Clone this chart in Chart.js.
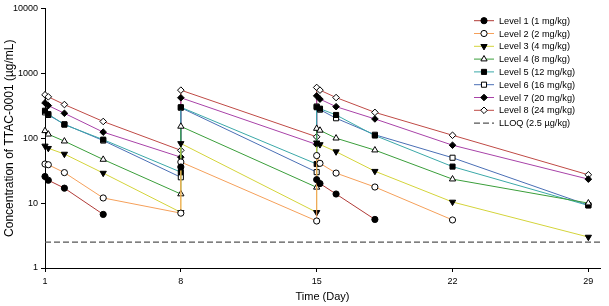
<!DOCTYPE html>
<html>
<head>
<meta charset="utf-8">
<script src="https://cdn.jsdelivr.net/npm/chart.js@4"></script>
<style>
  html, body { margin: 0; padding: 0; background: #fff; }
</style>
</head>
<body>
<canvas id="myChart" width="609" height="306"></canvas>
<script>
// sampling days - trough and peak on day 8 / 15 share the same x
const days = [1, 1.17, 2, 4, 8, 8, 15, 15, 15.17, 16, 18, 22, 29];

const level1 = [25.7, 22.5, 17, 6.7, null, 36, null, 23, 20, 13.8, 5.6, null, null];
const level2 = [40, 39, 29.5, 12, 7.0, 43, 5.3, 54, 41, 29, 17.7, 5.5, null];
const level3 = [76, 70, 57, 29, 7.2, 83, 7.2, 85, 80, 62, 31, 10.4, 3.0];
const level4 = [130, 115, 90, 47, 13.8, 152, 17.5, 141, 132, 100, 65.5, 23.4, 10];
const level5 = [265, 235, 162, 95, 30, 300, 40, 300, 285, 228, 110, 36.5, 9.2];
const level6 = [250, 228, 164, 92, 25, 295, 30, 308, 275, 203, 113, 50, 9.3];
const level7 = [350, 318, 242, 124, 51, 420, 80, 449, 400, 306, 198, 78, 23.4];
const level8 = [466, 434, 330, 181, 65, 550, 105, 605, 550, 423, 250, 111, 27.3];

const seriesNames = ["Level 1 (1 mg/kg)", "Level 2 (2 mg/kg)", "Level 3 (4 mg/kg)", "Level 4 (8 mg/kg)",
  "Level 5 (12 mg/kg)", "Level 6 (16 mg/kg)", "Level 7 (20 mg/kg)", "Level 8 (24 mg/kg)"];
const xTicks = [1, 8, 15, 22, 29];
const yTicks = [1, 10, 100, 1000, 10000];
const lloq = 2.5;
const xMin = 1, xMax = 29.6;

const FONT = "'Liberation Sans', Arial, sans-serif";

const styles = [
  { color: '#b03a36', shape: 'circle', fill: '#000', r: 3.1 },
  { color: '#f5a05a', shape: 'circle', fill: '#fff', r: 3.1 },
  { color: '#d4d43a', shape: 'triangle', fill: '#000', r: 3.6, rot: 180 },
  { color: '#3a9e3a', shape: 'triangle', fill: '#fff', r: 3.6 },
  { color: '#3aa8a8', shape: 'rect', fill: '#000', r: 3.6 },
  { color: '#4a6fb5', shape: 'rect', fill: '#fff', r: 3.6 },
  { color: '#a842a8', shape: 'rectRot', fill: '#000', r: 3.3 },
  { color: '#bf4a45', shape: 'rectRot', fill: '#fff', r: 3.3 }
];

const allLevels = [level1, level2, level3, level4, level5, level6, level7, level8];

const datasets = allLevels.map((vals, i) => ({
  label: seriesNames[i],
  data: vals.map((v, k) => ({ x: days[k], y: v })),
  borderColor: styles[i].color,
  borderWidth: 1,
  pointStyle: styles[i].shape,
  rotation: styles[i].rot || 0,
  pointRadius: styles[i].r,
  pointBackgroundColor: styles[i].fill,
  pointBorderColor: '#000',
  pointBorderWidth: 1,
  tension: 0,
  clip: false
}));

datasets.push({
  label: 'LLOQ (2.5 µg/kg)',
  data: [{ x: xMin, y: lloq }, { x: xMax, y: lloq }],
  borderColor: '#555',
  borderWidth: 1.2,
  borderDash: [6, 3],
  pointRadius: 0,
  clip: false
});

// legend with line + marker, drawn on the canvas
const legendPos = { x: 474, y: 20.7, len: 20, step: 12.8, textX: 499 };
const sideLegend = {
  id: 'sideLegend',
  afterDraw(chart) {
    const ctx = chart.ctx;
    ctx.save();
    chart.data.datasets.forEach((ds, i) => {
      const y = legendPos.y + i * legendPos.step;
      ctx.strokeStyle = ds.borderColor;
      ctx.lineWidth = ds.borderWidth;
      ctx.setLineDash(ds.borderDash || []);
      ctx.beginPath();
      ctx.moveTo(legendPos.x, y);
      ctx.lineTo(legendPos.x + legendPos.len, y);
      ctx.stroke();
      ctx.setLineDash([]);
      if (ds.pointRadius > 0) {
        ctx.fillStyle = ds.pointBackgroundColor;
        ctx.strokeStyle = '#000';
        ctx.lineWidth = 1;
        Chart.helpers.drawPoint(ctx, {
          pointStyle: ds.pointStyle, rotation: ds.rotation,
          radius: ds.pointRadius, borderWidth: 1
        }, legendPos.x + legendPos.len / 2, y);
      }
      ctx.fillStyle = '#000';
      ctx.font = "9.2px " + FONT;
      ctx.textBaseline = 'middle';
      ctx.textAlign = 'left';
      ctx.fillText(ds.label, legendPos.textX, y + 0.5);
    });
    ctx.restore();
  }
};

const ctx = document.getElementById('myChart').getContext('2d');
const myChart = new Chart(ctx, {
  type: 'line',
  data: { datasets: datasets },
  plugins: [sideLegend],
  options: {
    responsive: false,
    animation: false,
    events: [],
    layout: { padding: { top: 5, right: 9, left: 0, bottom: 0 } },
    plugins: { legend: { display: false }, tooltip: { enabled: false } },
    scales: {
      x: {
        type: 'linear',
        min: xMin,
        max: xMax,
        afterBuildTicks: s => { s.ticks = xTicks.map(v => ({ value: v })); },
        afterFit: s => { s.height = 38; },
        ticks: { font: { size: 9, family: FONT }, color: '#000', padding: 4, maxRotation: 0, autoSkip: false },
        grid: { drawOnChartArea: false, drawTicks: true, tickLength: 4, color: '#000' },
        border: { color: '#000', width: 1 },
        title: { display: true, text: 'Time (Day)', color: '#000', font: { size: 11, family: FONT }, padding: { top: 2, bottom: 2 } }
      },
      y: {
        type: 'logarithmic',
        min: 1,
        max: 10000,
        afterBuildTicks: s => { s.ticks = yTicks.map(v => ({ value: v })); },
        afterFit: s => { s.width = 45; },
        ticks: { font: { size: 9, family: FONT }, color: '#000', padding: 3, callback: v => String(v), autoSkip: false },
        grid: { drawOnChartArea: false, drawTicks: true, tickLength: 4, color: '#000' },
        border: { color: '#000', width: 1 },
        title: { display: true, text: 'Concentration of TTAC-0001 (µg/mL)', color: '#000', font: { size: 12, family: FONT }, padding: { top: 2.5, bottom: 0 } }
      }
    }
  }
});
</script>
</body>
</html>
